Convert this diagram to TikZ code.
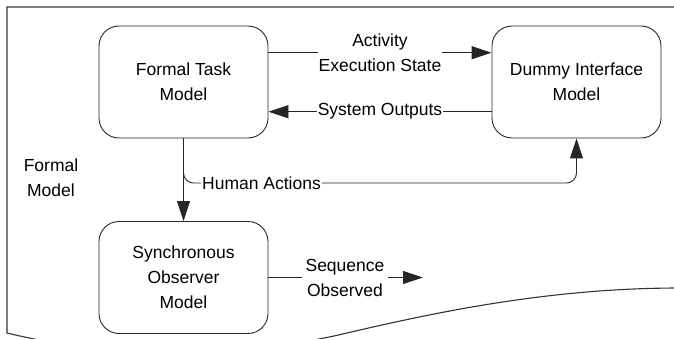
\documentclass[tikz,border=0pt]{standalone}
\usepackage{fontspec}
\setmainfont{Liberation Sans}
\usetikzlibrary{arrows.meta}
\begin{document}
\begin{tikzpicture}[x=1pt,y=-1pt,
  every node/.style={font=\fontsize{17.5}{25}\selectfont, text=black},
  box/.style={draw=black!85, line width=0.9pt, rounded corners=20pt, minimum width=169pt, minimum height=112pt, align=center, inner sep=0pt},
  conn/.style={draw=black!85, line width=0.9pt},
  arr/.style={conn, -{Triangle[length=20pt,width=13pt]}},
  lab/.style={fill=white, inner sep=1pt, align=center},
  frame/.style={draw=black!80, line width=1.1pt}
]
\useasboundingbox (0,0) rectangle (674,339);
\clip (0,0) rectangle (674,339);
% frame
\draw[frame] (680,7) -- (7,7) -- (7,333)
  .. controls (60,346) and (120,352) .. (173,351)
  .. controls (260,350) and (300,343) .. (334,336)
  .. controls (420,316) and (540,288) .. (680,288);
\node[align=center] (fm) at (51,178) {Formal\\Model};
% boxes
\node[box] (F) at (183.5,82) {Formal Task\\Model};
\node[box] (D) at (576.5,82) {Dummy Interface\\Model};
\node[box] (S) at (183.5,277.5) {Synchronous\\Observer\\Model};
\coordinate (seqend) at (423,277.5);
% connectors
\draw[arr] (F.east |- 0,52.7) -- (D.west |- 0,52.7);
\draw[arr] (D.west |- 0,111.7) -- (F.east |- 0,111.7);
\draw[arr] (F.south) -- (S.north);
\draw[arr, rounded corners=10pt] (F.south) |- (D.south |- 0,183) -- (D.south);
\draw[arr] (S.east) -- (seqend);
% labels
\node[lab] (act) at (380,52.7) {Activity\\Execution State};
\node[lab] (sys) at (380,111.7) {System Outputs};
\node[lab] (hum) at (261.5,183) {Human Actions};
\node[lab, inner xsep=4pt] (seq) at (345,277.5) {Sequence\\Observed};
\end{tikzpicture}
\end{document}
